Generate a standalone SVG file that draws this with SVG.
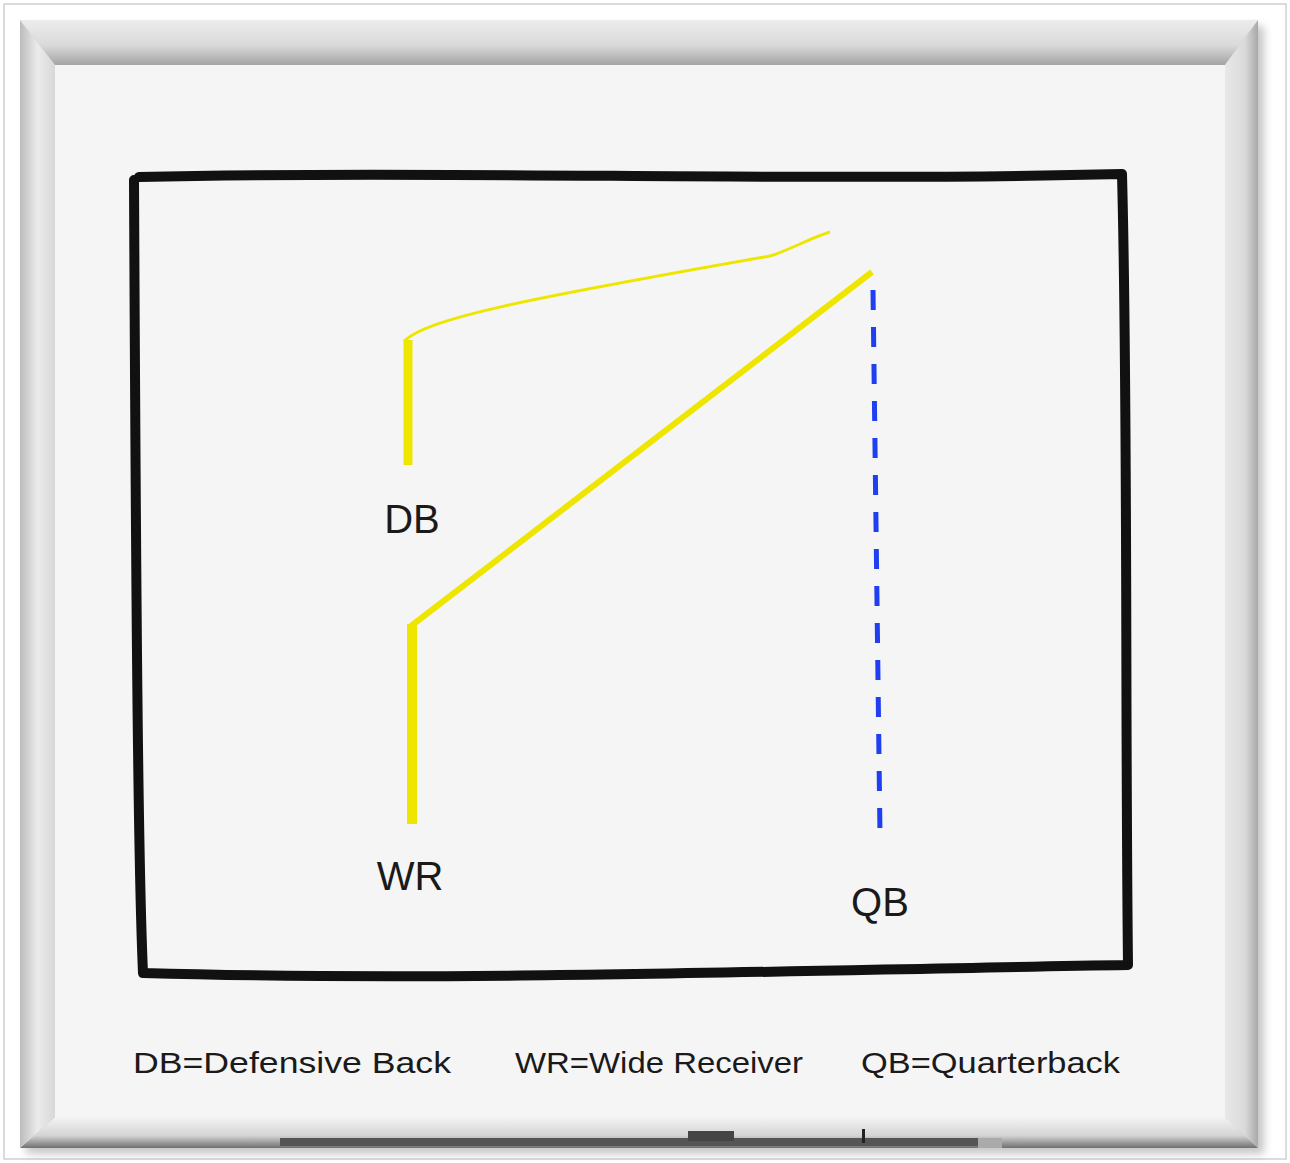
<svg xmlns="http://www.w3.org/2000/svg" width="1290" height="1163" viewBox="0 0 1290 1163">
<defs>
<linearGradient id="gTop" x1="0" y1="0" x2="0" y2="1"><stop offset="0" stop-color="#ececec"/><stop offset="0.55" stop-color="#dadada"/><stop offset="1" stop-color="#a4a4a4"/></linearGradient>
<linearGradient id="gBot" x1="0" y1="0" x2="0" y2="1"><stop offset="0" stop-color="#f4f4f4"/><stop offset="0.6" stop-color="#d4d4d4"/><stop offset="1" stop-color="#707070"/></linearGradient>
<linearGradient id="gLeft" x1="0" y1="0" x2="1" y2="0"><stop offset="0" stop-color="#bcbcbc"/><stop offset="0.5" stop-color="#ebebeb"/><stop offset="1" stop-color="#d8d8d8"/></linearGradient>
<linearGradient id="gRight" x1="0" y1="0" x2="1" y2="0"><stop offset="0" stop-color="#e8e8e8"/><stop offset="0.6" stop-color="#dadada"/><stop offset="1" stop-color="#a8a8a8"/></linearGradient>
<filter id="sh" x="-5%" y="-5%" width="110%" height="110%"><feGaussianBlur stdDeviation="4"/></filter>
<style>
.lbl{font-family:"Comic Sans MS","Liberation Sans",sans-serif;fill:#1a1a1a}
.big{font-size:40px}
.leg{font-size:30px}
.y{fill:none;stroke:#eee600;stroke-linecap:butt;stroke-linejoin:round}
</style>
</defs>
<rect width="1290" height="1163" fill="#ffffff"/>
<rect x="4" y="4" width="1282" height="1155" fill="none" stroke="#d0d0d0" stroke-width="1.5"/>
<g id="board">
<rect x="26" y="26" width="1238" height="1128" fill="#000" opacity="0.22" filter="url(#sh)"/>
<polygon points="20,20 1258,20 1225,65 55,65" fill="url(#gTop)"/>
<polygon points="20,1148 1258,1148 1225,1117 55,1117" fill="url(#gBot)"/>
<polygon points="20,20 55,65 55,1117 20,1148" fill="url(#gLeft)"/>
<polygon points="1258,20 1258,1148 1225,1117 1225,65" fill="url(#gRight)"/>
<rect x="55" y="65" width="1170" height="1052" fill="#f5f5f5"/>
<rect x="280" y="1138" width="700" height="8" fill="#555"/>
<rect x="688" y="1131" width="46" height="10" fill="#444"/>
<rect x="862" y="1129" width="3" height="14" fill="#222"/>
<rect x="978" y="1138" width="24" height="10" fill="#aaa"/>
</g>
<g id="field">
<path d="M139,177 C450,170 800,182 1122,174 C1128,400 1125,700 1128,965 C800,970 450,982 143,973 C138,860 136,600 134,180" fill="none" stroke="#111" stroke-width="10" stroke-linejoin="round" stroke-linecap="round"/>
</g>
<g id="connectors">
<path class="y" d="M408,465 L408,340" stroke-width="9"/>
<path class="y" d="M404,341 C430,318 520,300 770,256 C790,250 810,238 830,232" stroke-width="3"/>
<path class="y" d="M412,824 L412,624" stroke-width="10"/>
<path class="y" d="M411,626 L872,272" stroke-width="6"/>
<path d="M873,290 L880,835" fill="none" stroke="#1f3ff0" stroke-width="5" stroke-dasharray="20,17"/>
</g>
<g id="node-db"><text class="lbl big" x="412" y="533" text-anchor="middle">DB</text></g>
<g id="node-wr"><text class="lbl big" x="410" y="890" text-anchor="middle">WR</text></g>
<g id="node-qb"><text class="lbl big" x="880" y="916" text-anchor="middle">QB</text></g>
<g id="legend">
<text class="lbl leg" x="133" y="1073" textLength="318" lengthAdjust="spacingAndGlyphs">DB=Defensive Back</text>
<text class="lbl leg" x="515" y="1073" textLength="288" lengthAdjust="spacingAndGlyphs">WR=Wide Receiver</text>
<text class="lbl leg" x="861" y="1073" textLength="259" lengthAdjust="spacingAndGlyphs">QB=Quarterback</text>
</g>
</svg>
